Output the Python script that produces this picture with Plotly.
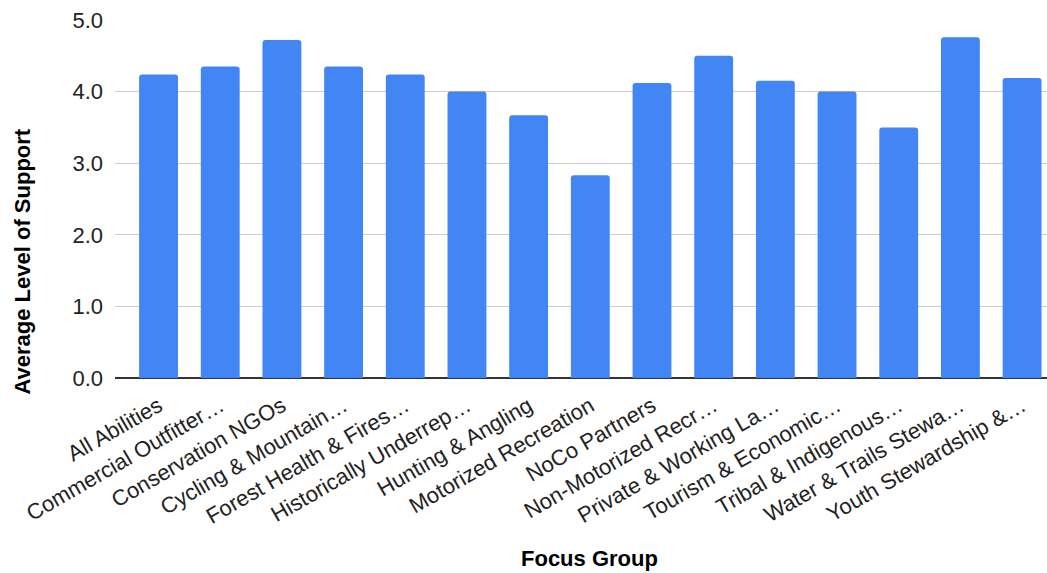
import plotly.graph_objects as go

categories = [
    "All Abilities", "Commercial Outfitter…", "Conservation NGOs", "Cycling & Mountain…",
    "Forest Health & Fires…", "Historically Underrep…", "Hunting & Angling",
    "Motorized Recreation", "NoCo Partners", "Non-Motorized Recr…", "Private & Working La…",
    "Tourism & Economic…", "Tribal & Indigenous…", "Water & Trails Stewa…", "Youth Stewardship &…",
]
values = [4.24, 4.35, 4.72, 4.35, 4.24, 4.0, 3.67, 2.83, 4.12, 4.5, 4.15, 4.0, 3.5, 4.76, 4.19]
y_ticks = [0, 1, 2, 3, 4, 5]

fig = go.Figure(go.Bar(x=categories, y=values, marker=dict(color="#4285F4", line=dict(width=0))))

fig.update_layout(
    width=1047, height=573,
    margin=dict(l=115, r=0, t=20, b=195, autoexpand=False),
    paper_bgcolor="white", plot_bgcolor="white",
    font=dict(family="Liberation Sans, Arial, sans-serif", color="#222222"),
    bargap=0.37,
    barcornerradius=3,
    showlegend=False,
    annotations=[
        dict(text="<b>Focus Group</b>", xref="paper", yref="paper", x=0.5086, y=-0.5028,
             xanchor="center", yanchor="middle", showarrow=False,
             font=dict(size=22, color="#000000")),
        dict(text="<b>Average Level of Support</b>", xref="paper", yref="paper", x=-0.1003, y=0.324,
             xanchor="center", yanchor="middle", showarrow=False, textangle=-90,
             font=dict(size=22, color="#000000")),
    ],
)
fig.update_xaxes(
    range=[-0.706, 14.404],
    tickangle=-30, tickfont=dict(size=22, color="#222222"),
    showline=False, ticks="", automargin=False, ticklabelstandoff=10,
)
fig.update_yaxes(
    range=[0, 5], tickvals=y_ticks, tickformat=".1f",
    tickfont=dict(size=22, color="#222222"),
    gridcolor="#cccccc", gridwidth=1.3,
    zeroline=True, zerolinecolor="#333333", zerolinewidth=1.5,
    ticks="", ticklabelstandoff=11, automargin=False,
)
fig.write_html(
    "out.html",
    config={"displayModeBar": False},
    post_script="document.body.style.margin='0';document.body.style.overflow='hidden';",
)
